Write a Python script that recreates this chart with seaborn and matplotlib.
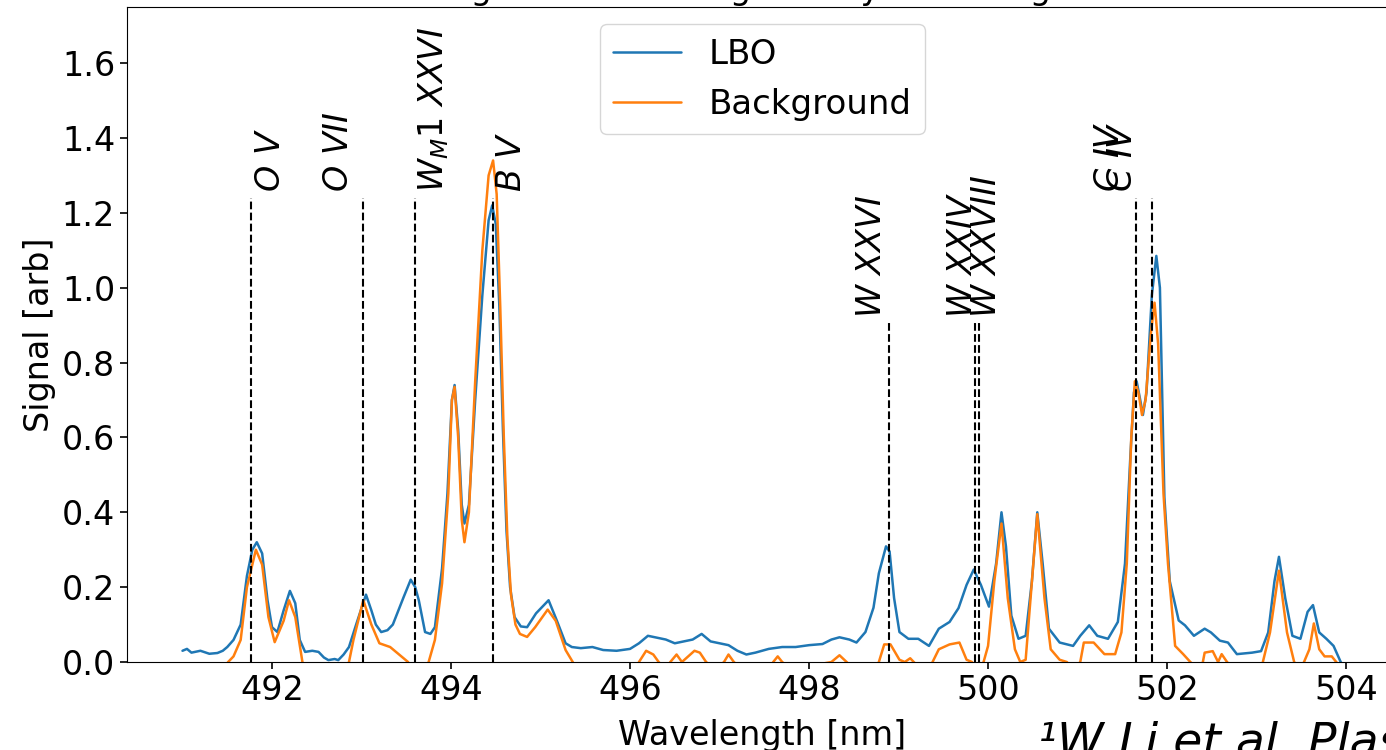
import pandas as pd
import seaborn as sns
import matplotlib.pyplot as plt

# LBO signal
lbo_wl = [491.00, 491.05, 491.10, 491.20, 491.30, 491.39, 491.45, 491.50, 491.57, 491.65,
          491.72, 491.78, 491.83, 491.89, 491.95, 492.00, 492.06, 492.13, 492.20, 492.26,
          492.31, 492.37, 492.45, 492.52, 492.58, 492.63, 492.70, 492.74, 492.80, 492.86,
          492.94, 493.05, 493.11, 493.16, 493.22, 493.29, 493.35, 493.47, 493.55, 493.60,
          493.64, 493.71, 493.77, 493.82, 493.90, 493.96, 494.01, 494.04, 494.08, 494.12,
          494.15, 494.20, 494.27, 494.35, 494.42, 494.46, 494.50, 494.54, 494.58, 494.62,
          494.66, 494.71, 494.78, 494.85, 494.95, 495.03, 495.09, 495.18, 495.28, 495.35,
          495.45, 495.58, 495.70, 495.85, 496.00, 496.10, 496.20, 496.30, 496.40, 496.50,
          496.60, 496.70, 496.80, 496.90, 497.00, 497.10, 497.20, 497.30, 497.40, 497.55,
          497.70, 497.85, 498.00, 498.15, 498.25, 498.34, 498.45, 498.53, 498.63, 498.72,
          498.78, 498.86, 498.90, 498.95, 499.01, 499.11, 499.22, 499.34, 499.45, 499.57,
          499.67, 499.76, 499.84, 499.92, 500.01, 500.09, 500.15, 500.20, 500.26, 500.34,
          500.42, 500.49, 500.55, 500.61, 500.68, 500.80, 500.95, 501.03, 501.13, 501.22,
          501.34, 501.45, 501.53, 501.59, 501.63, 501.66, 501.70, 501.73, 501.77, 501.83,
          501.88, 501.92, 501.97, 502.03, 502.13, 502.20, 502.30, 502.42, 502.49, 502.59,
          502.68, 502.78, 502.95, 503.05, 503.13, 503.20, 503.25, 503.32, 503.40, 503.49,
          503.57, 503.63, 503.70, 503.78, 503.86, 503.94, 503.97]
lbo_sig = [0.030, 0.035, 0.025, 0.030, 0.022, 0.024, 0.030, 0.040, 0.059, 0.100,
           0.230, 0.300, 0.320, 0.290, 0.165, 0.093, 0.080, 0.138, 0.190, 0.157,
           0.059, 0.027, 0.030, 0.027, 0.012, 0.005, 0.008, 0.005, 0.020, 0.040,
           0.100, 0.180, 0.138, 0.100, 0.080, 0.085, 0.100, 0.173, 0.220, 0.200,
           0.165, 0.080, 0.075, 0.093, 0.250, 0.450, 0.700, 0.740, 0.620, 0.420,
           0.370, 0.420, 0.700, 0.980, 1.180, 1.220, 1.170, 0.950, 0.620, 0.350,
           0.200, 0.120, 0.095, 0.093, 0.130, 0.150, 0.165, 0.112, 0.050, 0.040,
           0.037, 0.040, 0.032, 0.030, 0.035, 0.050, 0.070, 0.065, 0.060, 0.050,
           0.055, 0.060, 0.075, 0.055, 0.050, 0.045, 0.030, 0.020, 0.025, 0.035,
           0.040, 0.040, 0.045, 0.048, 0.060, 0.066, 0.060, 0.052, 0.080, 0.145,
           0.237, 0.309, 0.295, 0.171, 0.080, 0.062, 0.062, 0.043, 0.089, 0.107,
           0.144, 0.206, 0.247, 0.206, 0.148, 0.263, 0.400, 0.309, 0.124, 0.062,
           0.070, 0.216, 0.400, 0.263, 0.089, 0.052, 0.043, 0.070, 0.098, 0.070,
           0.062, 0.107, 0.263, 0.550, 0.720, 0.750, 0.700, 0.660, 0.720, 0.980,
           1.085, 1.000, 0.440, 0.216, 0.111, 0.098, 0.070, 0.089, 0.079, 0.057,
           0.052, 0.021, 0.025, 0.029, 0.079, 0.216, 0.281, 0.171, 0.070, 0.062,
           0.134, 0.152, 0.079, 0.062, 0.043, 0.000, -0.010]

# background signal
bg_wl = [491.00, 491.45, 491.51, 491.57, 491.65, 491.72, 491.82, 491.89, 491.96, 492.03,
         492.13, 492.19, 492.26, 492.34, 492.40, 492.80, 492.86, 492.91, 493.02, 493.11,
         493.20, 493.32, 493.40, 493.52, 493.56, 493.70, 493.75, 493.82, 493.90, 493.97,
         494.01, 494.04, 494.08, 494.12, 494.15, 494.20, 494.27, 494.35, 494.42, 494.47,
         494.51, 494.55, 494.59, 494.63, 494.67, 494.72, 494.77, 494.85, 494.94, 495.08,
         495.17, 495.28, 495.36, 495.42, 496.05, 496.10, 496.18, 496.26, 496.32, 496.40,
         496.45, 496.52, 496.58, 496.65, 496.72, 496.78, 496.85, 496.95, 497.05, 497.10,
         497.16, 497.25, 497.55, 497.60, 497.65, 497.70, 497.80, 498.25, 498.34, 498.42,
         498.50, 498.74, 498.78, 498.84, 498.91, 499.01, 499.07, 499.13, 499.17, 499.25,
         499.36, 499.38, 499.45, 499.57, 499.68, 499.76, 499.82, 499.86, 499.90, 499.95,
         500.00, 500.07, 500.15, 500.22, 500.30, 500.36, 500.42, 500.49, 500.55, 500.63,
         500.70, 500.80, 500.88, 500.95, 501.03, 501.07, 501.18, 501.30, 501.42, 501.49,
         501.55, 501.60, 501.64, 501.68, 501.72, 501.76, 501.82, 501.86, 501.90, 501.96,
         502.01, 502.09, 502.18, 502.26, 502.35, 502.40, 502.42, 502.51, 502.57, 502.61,
         502.67, 502.75, 503.05, 503.07, 503.15, 503.25, 503.34, 503.42, 503.48, 503.53,
         503.59, 503.64, 503.70, 503.76, 503.84, 503.89, 503.95]
bg_sig = [-0.020, -0.020, 0.000, 0.015, 0.059, 0.200, 0.300, 0.260, 0.120, 0.053,
          0.110, 0.165, 0.120, 0.000, -0.030, -0.030, 0.000, 0.059, 0.165, 0.100,
          0.050, 0.040, 0.024, 0.000, -0.030, -0.030, 0.000, 0.059, 0.210, 0.450,
          0.700, 0.735, 0.600, 0.380, 0.320, 0.400, 0.750, 1.100, 1.300, 1.340,
          1.250, 0.950, 0.600, 0.330, 0.180, 0.100, 0.075, 0.067, 0.093, 0.140,
          0.110, 0.032, 0.000, -0.030, -0.030, 0.000, 0.030, 0.020, 0.000, -0.020,
          0.000, 0.020, 0.000, 0.015, 0.030, 0.025, 0.000, -0.020, 0.000, 0.020,
          0.000, -0.020, -0.020, 0.000, 0.015, 0.000, -0.020, 0.000, 0.018, 0.000,
          -0.020, -0.020, 0.000, 0.047, 0.047, 0.006, 0.000, 0.010, 0.000, -0.020,
          -0.010, 0.000, 0.034, 0.047, 0.052, 0.006, 0.000, -0.020, -0.020, 0.000,
          0.043, 0.216, 0.370, 0.171, 0.034, 0.000, 0.006, 0.216, 0.395, 0.171,
          0.034, 0.006, 0.000, -0.020, 0.000, 0.052, 0.052, 0.021, 0.021, 0.079,
          0.263, 0.600, 0.750, 0.720, 0.660, 0.700, 0.880, 0.960, 0.850, 0.450,
          0.263, 0.043, 0.021, 0.000, -0.020, 0.000, 0.025, 0.029, 0.000, 0.021,
          0.000, -0.020, -0.020, 0.000, 0.079, 0.244, 0.079, 0.000, -0.020, 0.000,
          0.034, 0.103, 0.034, 0.015, 0.015, 0.000, -0.020]

# identified lines
line_names = [r'$O\ V$', r'$O\ VII$', r'$W_M1\ XXVI$', r'$B\ V$', r'$W\ XXVI$',
              r'$W\ XXIV$', r'$W\ XXVIII$', r'$C\ IV$', r'$C\ IV$']
line_wl = [491.77, 493.02, 493.60, 494.47, 498.89, 499.85, 499.90, 501.65, 501.83]
line_top = [1.24, 1.24, 1.24, 1.24, 0.905, 0.905, 0.905, 1.24, 1.24]
label_dx = [0.21, -0.28, 0.21, 0.21, -0.19, -0.13, 0.08, -0.29, -0.33]

sns.set_style('ticks')
plt.rcParams['font.family'] = ['DejaVu Sans']
plt.rcParams['font.size'] = 24
plt.rcParams['text.color'] = 'k'
plt.rcParams['axes.labelcolor'] = 'k'

fig = plt.figure(figsize=(13.86, 7.5), dpi=100)
ax = fig.add_axes([127 / 1386, 88 / 750, 1271 / 1386, 655 / 750])

sns.lineplot(x=lbo_wl, y=lbo_sig, ax=ax, color='#1f77b4', lw=1.8, label='LBO')
sns.lineplot(x=bg_wl, y=bg_sig, ax=ax, color='#ff7f0e', lw=1.8, label='Background')

ax.vlines(line_wl, 0, line_top, colors='k', linestyles='--', lw=1.5)
for name, wl, top, dx in zip(line_names, line_wl, line_top, label_dx):
    ax.text(wl + dx, top + 0.015, name, rotation=90, ha='center', va='bottom', fontsize=24)

ax.set_xlim(490.38, 504.58)
ax.set_ylim(0, 1.75)
ax.set_xticks([492, 494, 496, 498, 500, 502, 504])
ax.set_yticks([0.0, 0.2, 0.4, 0.6, 0.8, 1.0, 1.2, 1.4, 1.6])
ax.tick_params(labelsize=24, length=5, width=1.2, colors='k')
for s in ax.spines.values():
    s.set_color('k')
ax.set_xlabel('Wavelength [nm]', fontsize=24, labelpad=9)
ax.set_ylabel('Signal [arb]', fontsize=24)
ax.set_title('Signal seen during LBO by wavelength', fontsize=24, pad=6)
ax.legend(loc='upper center', fontsize=24.5)

fig.text(0.749, -0.008, '\u00b9W Li et al, Plasma Phys.', fontsize=34,
         style='italic', va='baseline')

fig.savefig('out.png', dpi=100)
